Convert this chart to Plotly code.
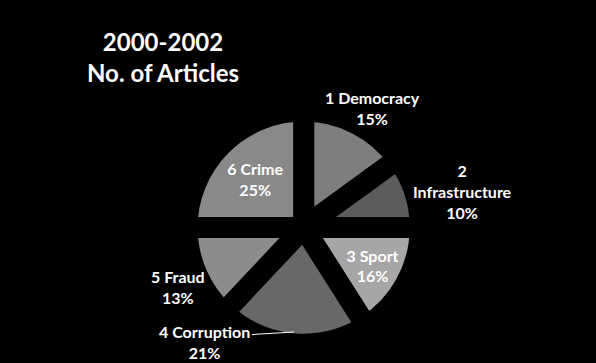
import plotly.graph_objects as go

# Article counts by topic, 2000-2002 (shares in percent)
topics = ["1 Democracy", "2 Infrastructure", "3 Sport", "4 Corruption", "5 Fraud", "6 Crime"]
shares = [15, 10, 16, 21, 13, 25]
slice_colors = ["#7e7e7e", "#5c5c5c", "#a6a6a6", "#686868", "#8c8c8c", "#898989"]

# which slices carry their label inside the wedge
inside = {"3 Sport", "6 Crime"}

FONT = "Lato, 'Open Sans', Arial, sans-serif"

fig = go.Figure()
fig.add_trace(go.Pie(
    labels=topics,
    values=shares,
    sort=False,
    direction="clockwise",
    rotation=0,
    marker=dict(colors=slice_colors, line=dict(color="black", width=21)),
    texttemplate="<b>%{label}<br>%{percent:.0%}</b>",
    textposition=["inside" if t in inside else "none" for t in topics],
    insidetextorientation="horizontal",
    textfont=dict(family=FONT, size=16, color="white"),
    domain=dict(x=[0.313, 0.706], y=[0.052, 0.694]),
    showlegend=False,
    hoverinfo="label+percent",
))

# labels placed beside the outer slices
total = sum(shares)
outside_pos = {
    "1 Democracy": (372, 108),
    "2 Infrastructure": (462, 191),
    "5 Fraud": (178, 287),
    "4 Corruption": (204, 342),
}
W, H = 596, 363
for t, v in zip(topics, shares):
    if t not in outside_pos:
        continue
    x, y = outside_pos[t]
    name = t.replace(" ", "<br>", 1) if t == "2 Infrastructure" else t
    fig.add_annotation(
        x=x / W, y=1 - y / H, xref="paper", yref="paper",
        xanchor="center", yanchor="middle",
        text=f"<b>{name}<br>{round(100 * v / total)}%</b>",
        showarrow=False, align="center",
        font=dict(family=FONT, size=16, color="white"),
    )

# leader line for the Corruption label
fig.add_shape(type="line", xref="paper", yref="paper",
              x0=252 / W, y0=1 - 334.5 / H, x1=294 / W, y1=1 - 332 / H,
              line=dict(color="white", width=1))

fig.add_annotation(
    x=163 / W, y=1 - 57 / H, xref="paper", yref="paper",
    xanchor="center", yanchor="middle",
    text="<b>2000-2002<br>No. of Articles</b>",
    showarrow=False, align="center",
    font=dict(family=FONT, size=24, color="white"),
)

fig.update_layout(
    width=W, height=H,
    margin=dict(l=0, r=0, t=0, b=0),
    paper_bgcolor="black",
    plot_bgcolor="black",
)

fig.write_html("out.html")
